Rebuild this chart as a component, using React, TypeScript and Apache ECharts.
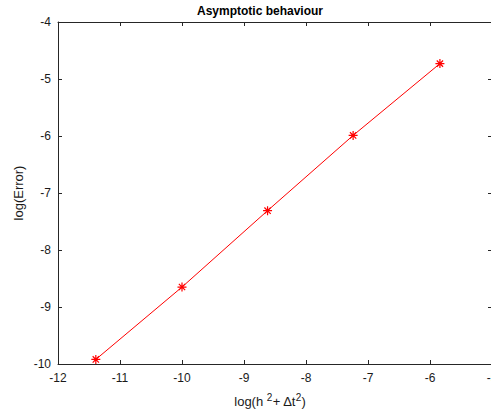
import React, { useEffect, useRef } from "react";
import * as echarts from "echarts";

const xValues = [-11.39, -10.0, -8.62, -7.24, -5.84];
const yValues = [-9.92, -8.65, -7.31, -5.99, -4.73];
const xTicks = [-12, -11, -10, -9, -8, -7, -6, -5];
const yTicks = [-10, -9, -8, -7, -6, -5, -4];
const titleText = "Asymptotic behaviour";
const yName = "log(Error)";

export default function App() {
  const ref = useRef<HTMLDivElement>(null);
  useEffect(() => {
    if (!ref.current) return;
    const chart = echarts.init(ref.current, null, { renderer: "svg" });
    const font = "'Liberation Sans', Arial, sans-serif";
    const axisCommon = {
      type: "value" as const,
      min: -12,
      max: -5,
      interval: 1,
      splitLine: { show: false },
      axisLine: { show: true, onZero: false, lineStyle: { color: "#262626", width: 1 } },
      axisTick: { show: true, inside: true, length: 4, lineStyle: { color: "#262626" } },
    };
    const yCommon = {
      type: "value" as const,
      min: -10,
      max: -4,
      interval: 1,
      splitLine: { show: false },
      axisLine: { show: true, onZero: false, lineStyle: { color: "#262626", width: 1 } },
      axisTick: { show: true, inside: true, length: 4, lineStyle: { color: "#262626" } },
    };
    chart.setOption({
      animation: false,
      backgroundColor: "#ffffff",
      grid: { left: 58, top: 22, right: -1, bottom: 52, containLabel: false, outerBoundsMode: "none" },
      xAxis: [
        {
          ...axisCommon,
          position: "bottom",
          axisLabel: {
            color: "#1a1a1a",
            fontFamily: font,
            fontSize: 12,
            margin: 8,
            formatter: (v: number) => (xTicks.includes(v) ? String(v) : ""),
          },
        },
        {
          ...axisCommon,
          position: "top",
          axisLabel: { show: false },
        },
      ],
      yAxis: [
        {
          ...yCommon,
          position: "left",
          axisLabel: {
            color: "#1a1a1a",
            fontFamily: font,
            fontSize: 12,
            margin: 7,
            formatter: (v: number) => (yTicks.includes(v) ? String(v) : ""),
          },
        },
        {
          ...yCommon,
          position: "right",
          axisLabel: { show: false },
        },
      ],
      graphic: [
        {
          type: "text",
          x: 260,
          y: 11,
          style: {
            text: titleText,
            fontFamily: font,
            fontSize: 12,
            fontWeight: "bold",
            fill: "#000",
            align: "center",
            verticalAlign: "middle",
          },
        },
        {
          type: "text",
          x: 18,
          y: 193,
          rotation: Math.PI / 2,
          style: {
            text: yName,
            fontFamily: font,
            fontSize: 13,
            fill: "#1a1a1a",
            align: "center",
            verticalAlign: "middle",
          },
        },
        {
          type: "text",
          x: 270,
          y: 400,
          style: {
            text: "{n|log(h }{s|2}{n|+ Δt}{s|2}{n|)}",
            align: "center",
            verticalAlign: "middle",
            rich: {
              n: { fontFamily: font, fontSize: 13, fill: "#1a1a1a", verticalAlign: "bottom", lineHeight: 16 },
              s: { fontFamily: font, fontSize: 10, fill: "#1a1a1a", verticalAlign: "top", lineHeight: 16, padding: [0, 0, 6, 0] },
            },
          },
        },
      ],
      series: [
        {
          type: "line",
          xAxisIndex: 0,
          yAxisIndex: 0,
          data: xValues.map((x, i) => [x, yValues[i]]),
          lineStyle: { color: "#ff0000", width: 1 },
          symbol: "path://M5,0 L5,10 M0,5 L10,5 M1.5,1.5 L8.5,8.5 M1.5,8.5 L8.5,1.5",
          symbolSize: 9,
          itemStyle: { color: "#ff0000", borderColor: "#ff0000", borderWidth: 1.2 },
          showSymbol: true,
        },
      ],
    });
    return () => chart.dispose();
  }, []);
  return <div ref={ref} style={{ width: 491, height: 416, position: "absolute", left: 0, top: 0 }} />;
}
